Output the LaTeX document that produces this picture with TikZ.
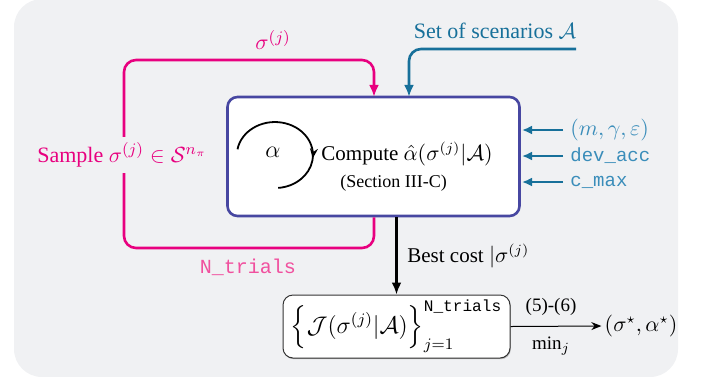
\documentclass[tikz,border=0pt]{standalone}
\usepackage{amsmath}
\usepackage{fontspec}
\setmainfont{Liberation Serif}
\setmonofont{Liberation Mono}
\usetikzlibrary{arrows.meta,calc,decorations.markings,shadows}
\definecolor{bgc}{HTML}{F0F1F3}
\definecolor{pinkc}{HTML}{E8007F}
\definecolor{pinklt}{HTML}{F0509E}
\definecolor{boxc}{HTML}{4747A1}
\definecolor{tealc}{HTML}{17709A}
\definecolor{teallt}{HTML}{3A8DBA}
\tikzset{
  mainbox/.style={draw=boxc, line width=1.3pt, rounded corners=5pt, fill=white,
    minimum width=146pt, minimum height=59.5pt, inner sep=0pt},
  resbox/.style={draw=black!80, line width=0.5pt, rounded corners=5pt, fill=white,
    minimum width=113.5pt, minimum height=31.5pt, inner sep=2pt,
    drop shadow={shadow xshift=0.4pt, shadow yshift=-0.6pt, fill=black!45, opacity=0.6}},
  pinkline/.style={draw=pinkc, line width=1.3pt, rounded corners=6pt},
  tealline/.style={draw=tealc, line width=1.3pt, rounded corners=6pt},
  bigtip/.style={-{Latex[length=6pt,width=5pt]}},
  lbl/.style={inner sep=1.5pt},
}
\begin{document}
\begin{tikzpicture}[x=0.5pt,y=-0.5pt,font=\fontsize{10.5}{12.5}\selectfont]
\useasboundingbox (0,0) rectangle (710,376);
\fill[bgc, rounded corners=14pt] (14,-1) rectangle (678,377);

% main box
\node[mainbox] (box) at (373.5,156.5) {};
\node[inner sep=0pt, anchor=north west, align=left] (comp) at (321,142)
  {Compute $\hat{\alpha}(\sigma^{(j)}|\mathcal{A})$\\[1pt]
   \hspace*{9.5pt}{\fontsize{9}{11}\selectfont (Section III-C)}};
\node[lbl, font=\fontsize{12}{14}\selectfont] (alpha) at (273,152) {$\alpha$};
\draw[line width=0.9pt, postaction={decorate},
  decoration={markings, mark=at position 0.69 with {\arrow{Stealth[length=5pt,width=4pt]}}}]
  (237.5,149.3) arc[start angle=170, end angle=-85, x radius=19pt, y radius=16.5pt];

% result box
\node[resbox, font=\fontsize{11.5}{13.5}\selectfont] (res) at (396.5,326.5)
  {$\Bigl\{\mathcal{J}(\sigma^{(j)}|\mathcal{A})\Bigr\}_{j=1}^{\text{\ttfamily N\_trials}}$};
\node[lbl] (out) at (641,326) {$(\sigma^{\star},\alpha^{\star})$};
\draw[line width=0.5pt, -{Stealth[length=5pt,width=4pt]}] (res.east) -- (out.west);
\node[lbl, font=\fontsize{9.5}{11}\selectfont] (eqs) at (551,307) {(5)-(6)};
\node[lbl, font=\fontsize{9.5}{11}\selectfont] (minj) at (551,346) {$\min_j$};

% best cost arrow
\draw[line width=1.3pt, -{Latex[length=6pt,width=5pt]}] (box.south -| res.north) -- (res.north);
\node[lbl, anchor=west] (best) at (404,256) {Best cost $|\sigma^{(j)}$};

% pink loop
\coordinate (pk) at (374,60);
\coordinate (pl) at (124,248);
\draw[pinkline, bigtip] (box.south -| pk) |- (pl) |- (pk) -- ([yshift=-0.6pt]box.north -| pk);
\node[lbl, text=pinkc, font=\fontsize{11}{13}\selectfont] (sigtop) at (273,40) {$\sigma^{(j)}$};
\node[lbl, text=pinkc, fill=bgc, inner sep=3pt, font=\fontsize{11}{13}\selectfont] (sample) at (122,155) {Sample $\sigma^{(j)}\in\mathcal{S}^{n_\pi}$};
\node[lbl, text=pinklt, font=\ttfamily\fontsize{10}{12}\selectfont] (ntr) at (248,267) {N\_trials};

% scenarios
\node[lbl, text=tealc, font=\fontsize{11}{13}\selectfont] (scen) at (495,31) {Set of scenarios $\mathcal{A}$};
\coordinate (sc) at (576,49);
\coordinate (tx) at (409,0);
\draw[tealline, bigtip] (sc) -| ([yshift=-0.6pt]box.north -| tx);

% right inputs
\node[lbl, anchor=west, text=teallt] (p1) at (567,130) {$(m,\gamma,\varepsilon)$};
\node[lbl, anchor=west, text=teallt, font=\ttfamily\fontsize{9.5}{11}\selectfont] (p2) at (567,156) {dev\_acc};
\node[lbl, anchor=west, text=teallt, font=\ttfamily\fontsize{9.5}{11}\selectfont] (p3) at (567,182) {c\_max};
\foreach \p in {p1,p2,p3}
  \draw[draw=tealc, line width=1.1pt, -{Latex[length=5pt,width=4.5pt]}] ([xshift=-2pt]\p.west) -- ([xshift=0.6pt]\p.west -| box.east);
\end{tikzpicture}
\end{document}
